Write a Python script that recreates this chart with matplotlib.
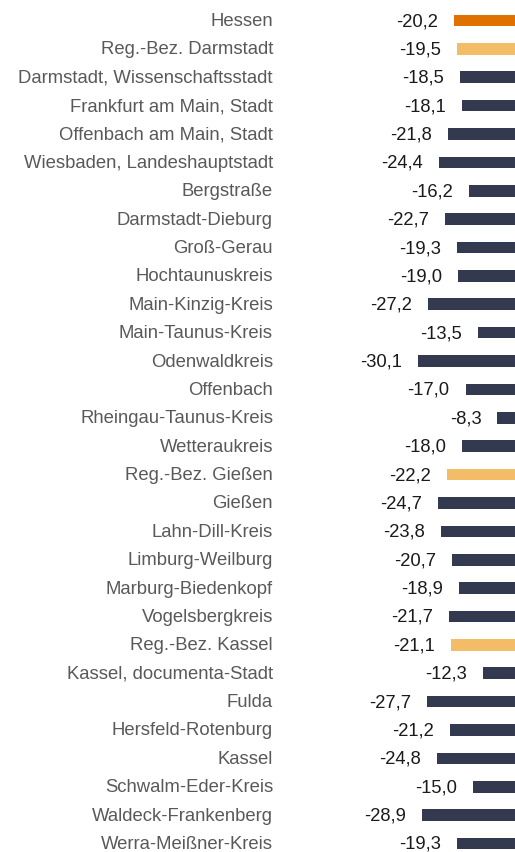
import matplotlib.pyplot as plt
import matplotlib.transforms as mtransforms

plt.rcParams['font.family'] = ['Liberation Sans', 'DejaVu Sans']

# Kreise und Veränderung in Prozent
regionen = [
    'Hessen', 'Reg.-Bez. Darmstadt', 'Darmstadt, Wissenschaftsstadt',
    'Frankfurt am Main, Stadt', 'Offenbach am Main, Stadt',
    'Wiesbaden, Landeshauptstadt', 'Bergstraße', 'Darmstadt-Dieburg',
    'Groß-Gerau', 'Hochtaunuskreis', 'Main-Kinzig-Kreis', 'Main-Taunus-Kreis',
    'Odenwaldkreis', 'Offenbach', 'Rheingau-Taunus-Kreis', 'Wetteraukreis',
    'Reg.-Bez. Gießen', 'Gießen', 'Lahn-Dill-Kreis', 'Limburg-Weilburg',
    'Marburg-Biedenkopf', 'Vogelsbergkreis', 'Reg.-Bez. Kassel',
    'Kassel, documenta-Stadt', 'Fulda', 'Hersfeld-Rotenburg', 'Kassel',
    'Schwalm-Eder-Kreis', 'Waldeck-Frankenberg', 'Werra-Meißner-Kreis',
]
werte = [
    -20.2, -19.5, -18.5, -18.1, -21.8, -24.4, -16.2, -22.7, -19.3, -19.0,
    -27.2, -13.5, -30.1, -17.0, -8.3, -18.0, -22.2, -24.7, -23.8, -20.7,
    -18.9, -21.7, -21.1, -12.3, -27.7, -21.2, -24.8, -15.0, -28.9, -19.3,
]
ebene = ['land', 'bezirk'] + ['kreis'] * 14 + ['bezirk'] + ['kreis'] * 5 + \
        ['bezirk'] + ['kreis'] * 7

farben = {'land': '#E07000', 'bezirk': '#F3BC66', 'kreis': '#333A4F'}

W, H = 515, 853
fig = plt.figure(figsize=(W / 100, H / 100), dpi=100)

# Nullpunkt liegt knapp rechts außerhalb des Bildes
x_null = 527.5
px_pro_einheit = 3.64
xmin = -35
ax_left = x_null + xmin * px_pro_einheit
top_px = 21.5 - 0.5 * 28.379
bot_px = 844.5 + 0.5 * 28.379
ax = fig.add_axes([ax_left / W, (H - bot_px) / H,
                   (x_null - ax_left) / W, (bot_px - top_px) / H])
ax.set_xlim(xmin, 0)
ax.set_ylim(len(werte) - 0.5, -0.5)
ax.axis('off')

pos = list(range(len(werte)))
ax.barh(pos, werte, height=0.41, color=[farben[e] for e in ebene])

trans = mtransforms.blended_transform_factory(fig.transFigure, ax.transData)
for i, (name, w) in enumerate(zip(regionen, werte)):
    ax.annotate(f'{w:.1f}'.replace('.', ','), xy=(w, i), xytext=(-16, 0),
                textcoords='offset pixels', ha='right', va='center',
                fontsize=13.2, color='#1a1a1a')
    ax.text(273 / W, i, name, transform=trans, ha='right', va='center',
            fontsize=13.3, color='#595959')

fig.savefig('out.png', dpi=100)
